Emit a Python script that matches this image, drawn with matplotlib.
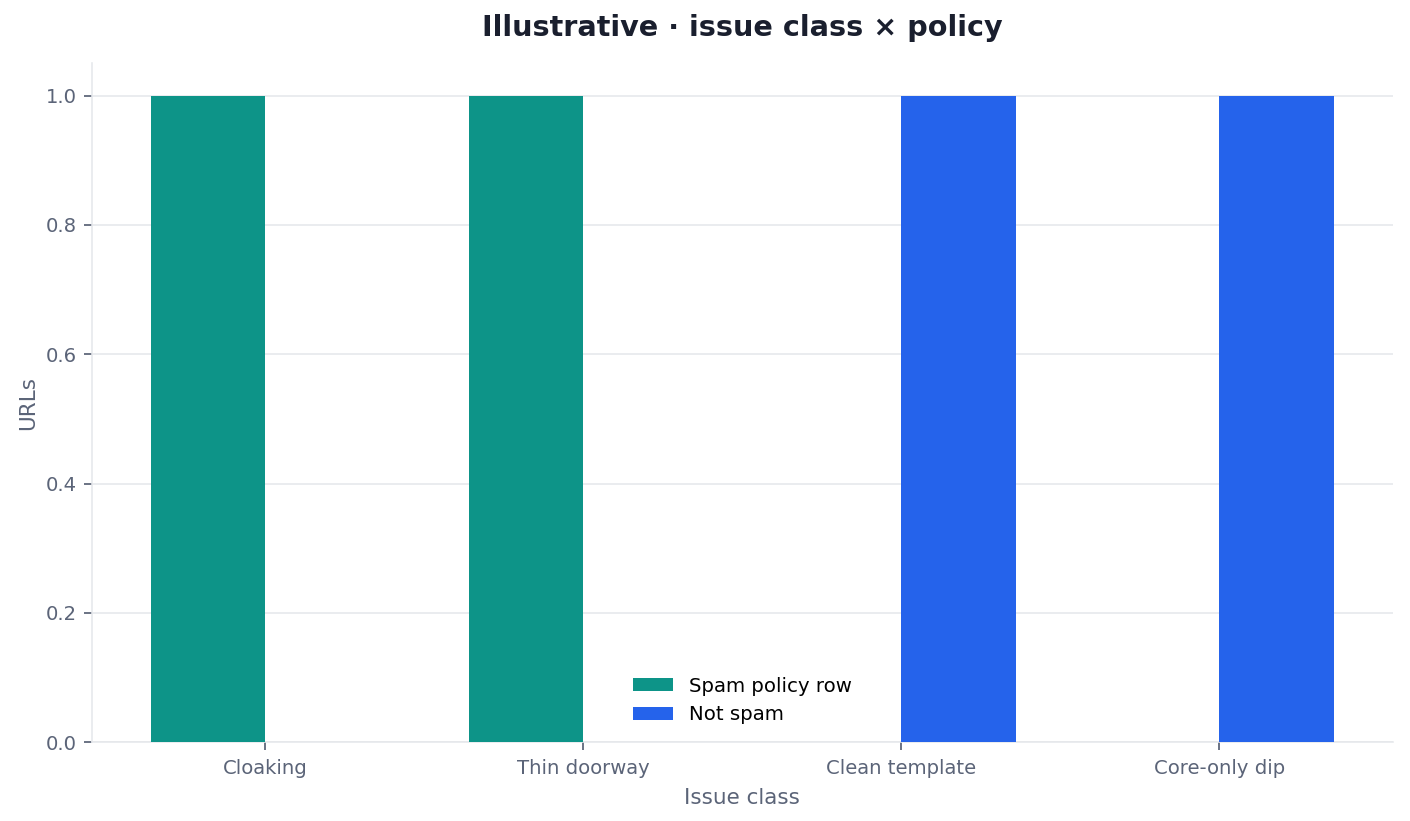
import matplotlib
matplotlib.use("Agg")
import matplotlib.pyplot as plt
import numpy as np

categories = ["Cloaking", "Thin doorway", "Clean template", "Core-only dip"]
spam_policy = [1, 1, 0, 0]
not_spam = [0, 0, 1, 1]

text_col = "#5b6478"
grid_col = "#e5e7eb"

fig, ax = plt.subplots(figsize=(10, 5.823), dpi=141)
fig.subplots_adjust(left=0.065, right=0.988, top=0.923, bottom=0.096)

x = np.arange(len(categories))
w = 0.36
ax.bar(x - w / 2, spam_policy, w, color="#0d9488", label="Spam policy row", zorder=3)
ax.bar(x + w / 2, not_spam, w, color="#2563eb", label="Not spam", zorder=3)

ax.set_xticks(x)
ax.set_xticklabels(categories)
ax.set_xlabel("Issue class", color=text_col, fontsize=11, labelpad=5)
ax.set_ylabel("URLs", color=text_col, fontsize=11)
ax.set_title("Illustrative · issue class × policy", fontsize=14.6, fontweight="bold",
             color="#1a1f2e", pad=14)

ax.yaxis.grid(True, color=grid_col, linewidth=0.8, zorder=0)
ax.set_axisbelow(True)
for s in ["top", "right"]:
    ax.spines[s].set_visible(False)
for s in ["left", "bottom"]:
    ax.spines[s].set_color(grid_col)
ax.tick_params(colors=text_col, labelsize=10, length=4, width=0.9)
ax.tick_params(axis="x", pad=4.8)

ax.legend(loc="lower center", frameon=False, fontsize=10.1)

fig.savefig("out.png", dpi=141)
